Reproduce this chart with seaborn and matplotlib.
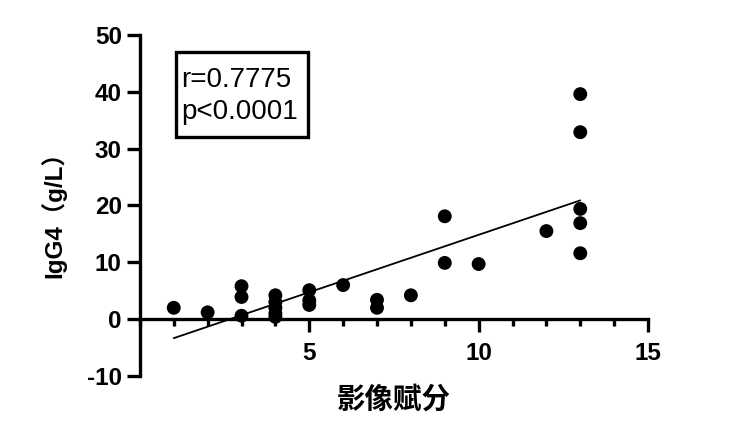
import numpy as np
import pandas as pd
import matplotlib
matplotlib.use("Agg")
import matplotlib.pyplot as plt
import seaborn as sns
from matplotlib.ticker import MultipleLocator
from matplotlib.patches import Rectangle

# Data
score = [1, 2, 3, 3, 3, 4, 4, 4, 4, 4, 5, 5, 5, 6, 7, 7, 8, 9, 9, 10, 12, 13, 13, 13, 13, 13]
igg4 = [2.0, 1.2, 5.8, 3.9, 0.6, 4.2, 3.0, 2.0, 1.0, 0.4, 5.1, 3.3, 2.5, 6.0, 3.4, 2.0, 4.2,
        18.1, 9.9, 9.7, 15.5, 39.6, 32.9, 19.4, 16.9, 11.6]
stats_text = "r=0.7775\np<0.0001"
x_ticks = [5, 10, 15]
y_ticks = [-10, 0, 10, 20, 30, 40, 50]

df = pd.DataFrame({"score": score, "igg4": igg4})

sns.set_theme(style="ticks")
plt.rcParams["font.family"] = ["Liberation Sans", "Noto Sans CJK SC", "DejaVu Sans"]
plt.rcParams["axes.unicode_minus"] = False
plt.rcParams["text.color"] = "black"
plt.rcParams["axes.labelcolor"] = "black"
plt.rcParams["xtick.color"] = "black"
plt.rcParams["ytick.color"] = "black"

fig = plt.figure(figsize=(7.44, 4.30), dpi=100)
ax = fig.add_axes([0.188, 0.1256, 0.683, 0.793])

sns.regplot(data=df, x="score", y="igg4", ax=ax, ci=None, truncate=True,
            scatter_kws=dict(s=100, color="black", edgecolor="none", alpha=1, zorder=3),
            line_kws=dict(color="black", lw=1.3, zorder=2))

ax.set_xlim(0, 15)
ax.set_ylim(-10, 50)
ax.set_xticks(x_ticks)
ax.xaxis.set_minor_locator(MultipleLocator(1))
ax.set_yticks(y_ticks)

for s in ["top", "right"]:
    ax.spines[s].set_visible(False)
ax.spines["bottom"].set_position(("data", 0))
ax.spines["left"].set_bounds(-10, 50)
ax.spines["bottom"].set_bounds(0, 15)
for s in ["left", "bottom"]:
    ax.spines[s].set_linewidth(2.4)
    ax.spines[s].set_color("black")

ax.tick_params(axis="both", which="major", length=9.5, width=2.4, color="black",
               labelcolor="black", labelsize=17.5, pad=3.5)
ax.tick_params(axis="x", which="minor", length=5, width=2.4, color="black")
ax.tick_params(axis="x", which="major", pad=7)
for lab in ax.get_xticklabels() + ax.get_yticklabels():
    lab.set_fontweight("bold")

ax.set_xlabel("影像赋分", fontsize=20.5, fontweight="bold", color="black",
              family=["Noto Sans CJK SC", "DejaVu Sans"])
ax.set_ylabel("IgG4（g/L）", fontsize=17.5, fontweight="bold", color="black",
              family=["Liberation Sans", "Noto Sans CJK SC"])
ax.xaxis.set_label_coords(0.5, -0.07)
ax.xaxis.label.set_va("center")
ax.yaxis.set_label_coords(-0.17, 0.49)
ax.yaxis.label.set_va("center")

ax.add_patch(Rectangle((0.0709, 0.701), 0.2598, 0.249, transform=ax.transAxes,
                       fill=True, fc="white", ec="black", lw=2.4, zorder=4))
ax.text(0.0807, 0.822, stats_text, transform=ax.transAxes, fontsize=20, color="black",
        va="center", ha="left", linespacing=1.3, zorder=5)

fig.savefig("out.png", dpi=100)
